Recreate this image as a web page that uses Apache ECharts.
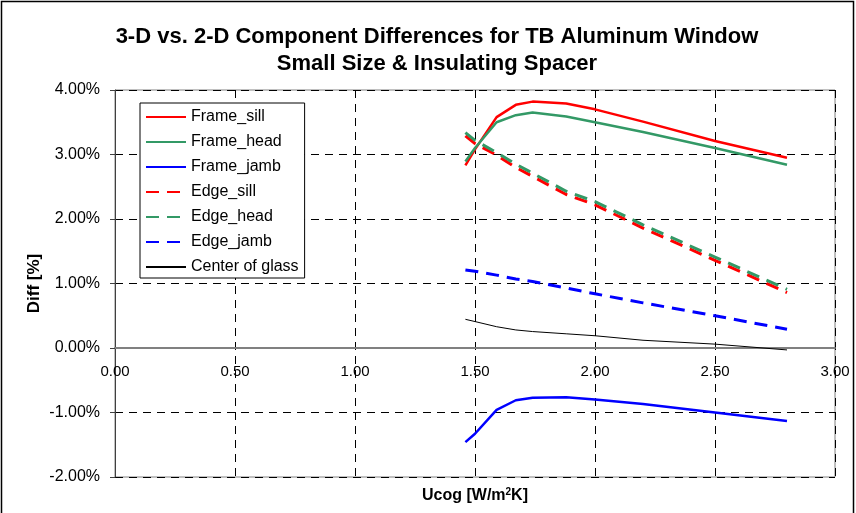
<!DOCTYPE html>
<html>
<head>
<meta charset="utf-8">
<script src="https://cdn.jsdelivr.net/npm/echarts@6/dist/echarts.min.js"></script>
<style>
html,body{margin:0;padding:0;background:#fff;}
#chart{width:856px;height:513px;}
</style>
</head>
<body>
<div id="chart"></div>
<script>
// Data
const ucog = [1.46, 1.50, 1.59, 1.67, 1.74, 1.88, 2.00, 2.20, 2.50, 2.80];
const frameSill = [2.83, 3.08, 3.58, 3.77, 3.82, 3.79, 3.70, 3.51, 3.21, 2.95];
const frameHead = [2.89, 3.10, 3.50, 3.61, 3.65, 3.59, 3.50, 3.35, 3.10, 2.84];
const frameJamb = [-1.46, -1.33, -0.96, -0.81, -0.77, -0.765, -0.80, -0.87, -1.00, -1.13];
const edgeSill = [3.29, 3.17, 2.99, 2.80, 2.66, 2.38, 2.22, 1.86, 1.36, 0.86];
const edgeHead = [3.34, 3.22, 3.03, 2.85, 2.71, 2.43, 2.27, 1.91, 1.41, 0.91];
const edgeJamb = [1.21, 1.19, 1.13, 1.07, 1.03, 0.93, 0.84, 0.70, 0.50, 0.29];
const centerGlass = [0.445, 0.41, 0.33, 0.28, 0.255, 0.22, 0.19, 0.12, 0.06, -0.03];

const seriesNames = ['Frame_sill', 'Frame_head', 'Frame_jamb', 'Edge_sill', 'Edge_head', 'Edge_jamb', 'Center of glass'];
const titleText = '3-D vs. 2-D Component Differences for TB Aluminum Window\nSmall Size & Insulating Spacer';

function pairs(ys) { return ucog.map((x, i) => [x, ys[i]]); }

const FONT = 'Liberation Sans, Arial, sans-serif';
const dash = [13, 8];

function mk(name, ys, color, width, dashed) {
  return {
    name: name, type: 'line', data: pairs(ys), symbol: 'none', smooth: false,
    lineStyle: { color: color, width: width, type: dashed ? dash : 'solid' },
    itemStyle: { color: color },
    emphasis: { disabled: true },
    z: 3
  };
}

// grid geometry
const GRID_TOP = 90, GRID_BOTTOM = 36, H = 513;
const Y_MIN = -2, Y_MAX = 4;
const plotH = H - GRID_TOP - GRID_BOTTOM;
const zeroOffset = -plotH * (0 - Y_MIN) / (Y_MAX - Y_MIN); // move x-axis up to y = 0

const chart = echarts.init(document.getElementById('chart'), null, { renderer: 'canvas' });
chart.setOption({
  animation: false,
  backgroundColor: '#fff',
  textStyle: { fontFamily: FONT },
  graphic: [{
    type: 'rect', shape: { x: 1.5, y: 1.5, width: 852, height: 530 },
    style: { fill: null, stroke: '#000', lineWidth: 1.5 }, silent: true, z: 100
  }, {
    type: 'text', x: 437, y: 23, silent: true, z: 100,
    style: { text: titleText, fill: '#000', font: 'bold 22px ' + FONT, textAlign: 'center', textVerticalAlign: 'top', lineHeight: 27 }
  }],
  grid: { left: 115, right: 21, top: GRID_TOP, bottom: GRID_BOTTOM, show: true, borderColor: '#808080', borderWidth: 1,
    containLabel: false, outerBoundsMode: 'none' },
  legend: {
    orient: 'vertical', left: 140, top: 103,
    padding: [6, 6, 3, 5], itemGap: 9, itemWidth: 40, itemHeight: 14,
    backgroundColor: '#fff', borderColor: '#000', borderWidth: 1,
    itemStyle: { opacity: 0 },
    textStyle: { fontFamily: FONT, fontSize: 16, color: '#000', lineHeight: 16 },
    data: seriesNames, selectedMode: false
  },
  xAxis: {
    type: 'value', min: 0, max: 3, interval: 0.5,
    position: 'bottom', offset: zeroOffset,
    axisLine: { onZero: false, lineStyle: { color: '#808080', width: 2 } },
    axisTick: { show: false },
    axisLabel: { formatter: v => v.toFixed(2), fontFamily: FONT, fontSize: 15, color: '#000', margin: 16 },
    splitLine: { show: true, lineStyle: { color: '#000', width: 1, type: [8, 6] } },
    name: 'Ucog [W/m{sup|2}K]', nameLocation: 'middle', nameGap: 139, nameMoveOverlap: false,
    nameTextStyle: { fontFamily: FONT, fontSize: 16, fontWeight: 'bold', color: '#000',
      rich: { sup: { fontSize: 10, fontWeight: 'bold', verticalAlign: 'top', padding: [0, 0, 7, 0], fontFamily: FONT } } }
  },
  yAxis: {
    type: 'value', min: Y_MIN, max: Y_MAX, interval: 1,
    axisLine: { show: true, lineStyle: { color: '#404040', width: 1 } },
    axisTick: { show: true, length: 5, lineStyle: { color: '#404040' } },
    axisLabel: { formatter: v => v.toFixed(2) + '%', fontFamily: FONT, fontSize: 16, color: '#000', margin: 15 },
    splitLine: { show: true, lineStyle: { color: '#000', width: 1, type: [8, 6] } },
    name: 'Diff [%]', nameLocation: 'middle', nameGap: 72, nameRotate: 90, nameMoveOverlap: false,
    nameTextStyle: { fontFamily: FONT, fontSize: 17, fontWeight: 'bold', color: '#000' }
  },
  series: [
    mk('Frame_sill', frameSill, '#ff0000', 2.5, false),
    mk('Frame_head', frameHead, '#339966', 2.5, false),
    mk('Frame_jamb', frameJamb, '#0000ff', 2.5, false),
    mk('Edge_sill', edgeSill, '#ff0000', 3, true),
    mk('Edge_head', edgeHead, '#339966', 3, true),
    mk('Edge_jamb', edgeJamb, '#0000ff', 3, true),
    mk('Center of glass', centerGlass, '#000000', 1, false)
  ]
});
</script>
</body>
</html>
